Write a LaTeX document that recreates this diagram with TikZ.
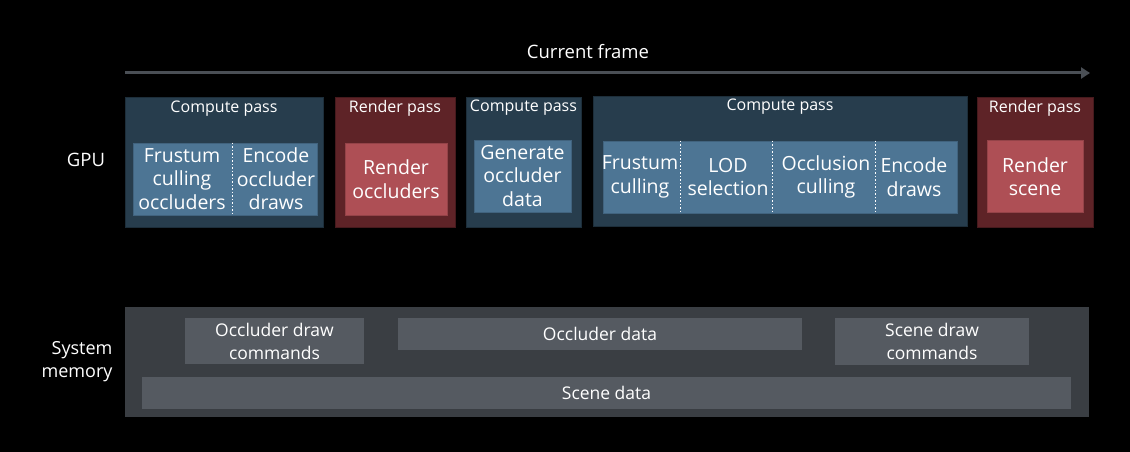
\documentclass[tikz,border=0pt]{standalone}
\usepackage{fontspec}
\setmainfont{Open Sans}
\usetikzlibrary{arrows.meta}
\definecolor{cpdark}{HTML}{273D4D}
\definecolor{cplight}{HTML}{4D7594}
\definecolor{rpdark}{HTML}{5E2327}
\definecolor{rplight}{HTML}{AE4F55}
\definecolor{memdark}{HTML}{3A3E43}
\definecolor{memlight}{HTML}{555A61}
\definecolor{axisgray}{HTML}{4A4F55}
\newcommand{\fsz}[2]{\fontsize{#1}{#2}\selectfont}

\begin{document}
\begin{tikzpicture}[x=1pt,y=-1pt,>=Triangle,
  every node/.style={text=white,inner sep=0pt},
  cpass/.style={fill=cpdark,draw=cpdark!75!black,line width=1pt,minimum height=130pt},
  rpass/.style={fill=rpdark,draw=rpdark!75!black,line width=1pt,minimum height=130pt},
  cstep/.style={fill=cplight,draw=cplight!85!black,line width=0.8pt,minimum height=72pt},
  rstep/.style={fill=rplight,draw=rplight!85!black,line width=0.8pt,minimum height=72pt},
  hdr/.style={font=\fsz{16}{19}},
  lbl/.style={font=\fsz{19.5}{23.5},align=center},
  divider/.style={white,dotted,line width=1.5pt},
  memcell/.style={fill=memlight,font=\fsz{17.5}{23},align=center}]
  % background, 1130 x 452
  \fill[black] (0,0) rectangle (1130,452);
  \useasboundingbox (0,0) rectangle (1130,452);
  % time line
  \node[font=\fsz{18.5}{22}] (frame) at (588,52) {Current frame};
  \coordinate (t0) at (125,73);
  \coordinate (t1) at (1090,73);
  \draw[axisgray,line width=3pt,-{Triangle[length=9pt,width=11pt]}] (t0) -- (t1);
  % GPU row
  \node[font=\fsz{18.5}{22}] (gpu) at (86,160) {GPU};
  \node[cpass,minimum width=198pt] (cp1) at (224,162.5) {};
  \node[rpass,minimum width=120pt] (rp1) at (395,162.5) {};
  \node[cpass,minimum width=115pt] (cp2) at (523.5,162) {};
  \node[cpass,minimum width=374pt] (cp3) at (780,161.5) {};
  \node[rpass,minimum width=116pt] (rp2) at (1035,162) {};
  \node[hdr] (cp1h) at (224,109) {Compute pass};
  \node[hdr] (rp1h) at (395,108) {Render pass};
  \node[hdr] (cp2h) at (523.5,108) {Compute pass};
  \node[hdr] (cp3h) at (780,107) {Compute pass};
  \node[hdr] (rp2h) at (1035,108) {Render pass};
  % steps inside the passes
  \node[cstep,minimum width=184pt] (in1) at (225,179) {};
  \node[rstep,minimum width=102pt] (in2) at (396,179) {};
  \node[cstep,minimum width=97pt] (in3) at (522.5,176) {};
  \node[cstep,minimum width=354pt] (in4) at (780,177) {};
  \node[rstep,minimum width=96pt] (in5) at (1035,176.5) {};
  \draw[divider] ([xshift=100pt]in1.north west) -- ([xshift=100pt]in1.south west);
  \foreach \dx in {78,170,273}
    \draw[divider] ([xshift=\dx pt]in4.north west) -- ([xshift=\dx pt]in4.south west);
  \node[lbl] (fco) at (182,179) {Frustum\\culling\\occluders};
  \node[lbl] (eod) at (276,179) {Encode\\occluder\\draws};
  \node[lbl] (ro) at (396,179) {Render\\occluders};
  \node[lbl] (god) at (522.5,176) {Generate\\occluder\\data};
  \node[lbl] (fc) at (640,177) {Frustum\\culling};
  \node[lbl] (lod) at (728,177) {LOD\\selection};
  \node[lbl] (occ) at (826,177) {Occlusion\\culling};
  \node[lbl] (ed) at (914,177) {Encode\\draws};
  \node[lbl] (rs) at (1035,176.5) {Render\\scene};
  % system memory row
  \node[font=\fsz{18}{23},align=right] (sysmem) at (77,362) {System\\memory};
  \node[fill=memdark,minimum width=964pt,minimum height=110pt] (mem) at (607,362) {};
  \node[memcell,minimum width=179pt,minimum height=46pt] (ocmd) at (274.5,341) {Occluder draw\\commands};
  \node[memcell,minimum width=404pt,minimum height=32pt] (odata) at (600,334) {Occluder data};
  \node[memcell,minimum width=194pt,minimum height=47pt] (scmd) at (932,341.5) {Scene draw\\commands};
  \node[memcell,minimum width=929pt,minimum height=32pt] (sdata) at (606.5,393) {Scene data};
\end{tikzpicture}
\end{document}
